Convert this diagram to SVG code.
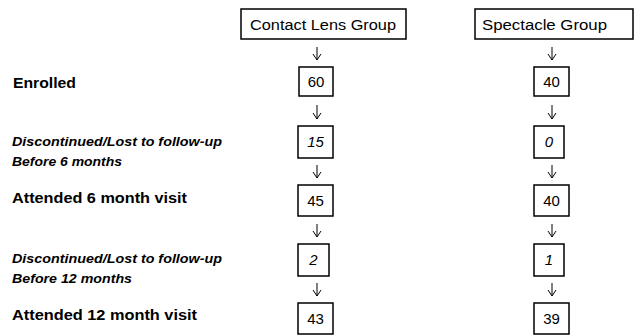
<svg xmlns="http://www.w3.org/2000/svg" width="636" height="335" viewBox="0 0 636 335">
<defs>
<marker id="ah" markerWidth="10" markerHeight="10" refX="8" refY="5" orient="auto" markerUnits="userSpaceOnUse" viewBox="0 0 10 10">
<path d="M2,1 L8,5 L2,9" fill="none" stroke="#000" stroke-width="1"/>
</marker>
</defs>
<style>
.box{fill:#fff;stroke:#000;stroke-width:1.5}
.t{font-family:"Liberation Sans",Arial,sans-serif;fill:#000}
.hd{font-size:14px}
.num{font-size:15px;text-anchor:middle}
.it{font-style:italic}
.lb{font-size:14px;font-weight:bold}
.lbi{font-size:12px;font-weight:bold;font-style:italic}
.c line{stroke:#000;stroke-width:1;marker-end:url(#ah)}
</style>
<rect width="636" height="335" fill="#fff"/>
<g id="labels">
<text class="t lb" x="13" y="88" textLength="63" lengthAdjust="spacingAndGlyphs">Enrolled</text>
<text class="t lbi" x="12" y="146" textLength="210" lengthAdjust="spacingAndGlyphs">Discontinued/Lost  to follow-up</text>
<text class="t lbi" x="12" y="166" textLength="110" lengthAdjust="spacingAndGlyphs">Before 6 months</text>
<text class="t lb" x="12" y="203" textLength="175" lengthAdjust="spacingAndGlyphs">Attended 6 month visit</text>
<text class="t lbi" x="12" y="263" textLength="210" lengthAdjust="spacingAndGlyphs">Discontinued/Lost  to follow-up</text>
<text class="t lbi" x="12" y="283" textLength="120" lengthAdjust="spacingAndGlyphs">Before 12 months</text>
<text class="t lb" x="12" y="320" textLength="185" lengthAdjust="spacingAndGlyphs">Attended 12 month visit</text>
</g>
<g id="cl-header"><rect class="box" x="241" y="9" width="165" height="30"/><text class="t hd" x="250" y="30" textLength="146" lengthAdjust="spacingAndGlyphs">Contact Lens Group</text></g>
<g id="sp-header"><rect class="box" x="475" y="9" width="158" height="30"/><text class="t hd" x="482" y="30" textLength="125" lengthAdjust="spacingAndGlyphs">Spectacle Group</text></g>
<g id="cl-60"><rect class="box" x="299" y="67" width="34" height="29"/><text class="t num" x="316" y="87">60</text></g>
<g id="cl-15"><rect class="box" x="298" y="126" width="35" height="32"/><text class="t num it" x="315.5" y="147">15</text></g>
<g id="cl-45"><rect class="box" x="298" y="185" width="35" height="31"/><text class="t num" x="315.5" y="206">45</text></g>
<g id="cl-2"><rect class="box" x="298" y="244" width="31" height="32"/><text class="t num it" x="313.5" y="265">2</text></g>
<g id="cl-43"><rect class="box" x="298" y="303" width="35" height="31"/><text class="t num" x="315.5" y="324">43</text></g>
<g id="sp-40a"><rect class="box" x="534" y="67" width="35" height="29"/><text class="t num" x="551.5" y="87">40</text></g>
<g id="sp-0"><rect class="box" x="534" y="126" width="30" height="32"/><text class="t num it" x="549" y="147">0</text></g>
<g id="sp-40b"><rect class="box" x="534" y="185" width="35" height="31"/><text class="t num" x="551.5" y="206">40</text></g>
<g id="sp-1"><rect class="box" x="534" y="244" width="30" height="32"/><text class="t num it" x="549" y="265">1</text></g>
<g id="sp-39"><rect class="box" x="534" y="303" width="35" height="31"/><text class="t num" x="551.5" y="324">39</text></g>
<g id="connectors" class="c">
<line x1="317" y1="47" x2="317" y2="60"/>
<line x1="317" y1="105" x2="317" y2="119"/>
<line x1="317" y1="165" x2="317" y2="178"/>
<line x1="317" y1="224" x2="317" y2="237"/>
<line x1="317" y1="283" x2="317" y2="296"/>
<line x1="552" y1="47" x2="552" y2="60"/>
<line x1="552" y1="105" x2="552" y2="119"/>
<line x1="552" y1="165" x2="552" y2="178"/>
<line x1="552" y1="224" x2="552" y2="237"/>
<line x1="552" y1="283" x2="552" y2="296"/>
</g>
</svg>
